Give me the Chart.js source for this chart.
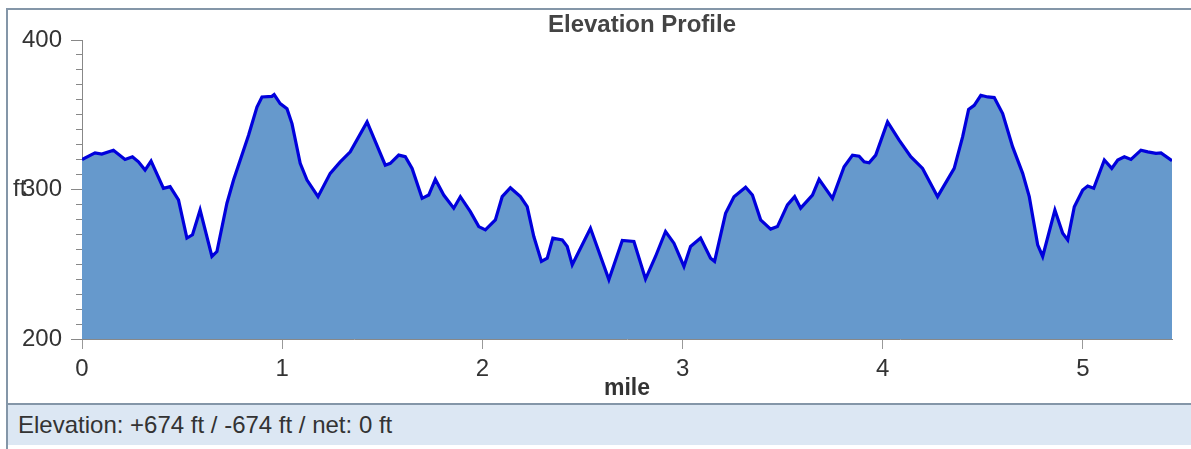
<!DOCTYPE html>
<html><head><meta charset="utf-8">
<script src="https://cdn.jsdelivr.net/npm/chart.js@4.4.0/dist/chart.umd.min.js"></script>
<style>
html,body{margin:0;padding:0;background:#fff;width:1191px;height:449px;overflow:hidden;font-family:'Liberation Sans',Arial,sans-serif;}
#frame{position:absolute;left:6px;top:8px;width:1200px;height:460px;border-left:2px solid #8496a8;border-top:2px solid #8496a8;}
#c{position:absolute;left:0;top:0;z-index:2;}
#footer{position:absolute;left:8px;top:403px;width:1190px;height:42px;background:#dce7f3;border-top:2px solid #8496a8;z-index:1;font-size:24px;color:#333;line-height:40px;padding-left:10px;box-sizing:border-box;}
</style></head>
<body>
<div id="frame"></div>
<div id="footer">Elevation: +674 ft / -674 ft / net: 0 ft</div>
<canvas id="c" width="1191" height="400"></canvas>
<script>
const chartTitle = 'Elevation Profile';
const xAxisTitle = 'mile';
const yAxisUnit = 'ft';
const yMin = 200, yMax = 400, yMajorStep = 100, yMinorStep = 10, xStep = 1;

const miles = [0.000,0.065,0.099,0.157,0.215,0.252,0.282,0.315,0.345,0.407,
0.440,0.482,0.524,0.552,0.590,0.649,0.674,0.724,0.757,0.832,
0.874,0.899,0.949,0.960,0.990,1.024,1.049,1.090,1.124,1.179,
1.240,1.290,1.340,1.424,1.515,1.540,1.582,1.615,1.649,1.699,
1.732,1.765,1.807,1.857,1.890,1.940,1.982,2.015,2.065,2.099,
2.140,2.190,2.224,2.257,2.295,2.324,2.352,2.399,2.424,2.449,
2.540,2.632,2.699,2.757,2.815,2.865,2.915,2.957,3.007,3.040,
3.090,3.140,3.160,3.215,3.257,3.315,3.349,3.390,3.440,3.474,
3.524,3.560,3.590,3.649,3.682,3.749,3.807,3.849,3.882,3.907,
3.932,3.965,4.024,4.082,4.140,4.199,4.274,4.357,4.399,4.429,
4.457,4.490,4.524,4.557,4.599,4.649,4.699,4.732,4.774,4.799,
4.860,4.899,4.924,4.957,4.999,5.024,5.054,5.107,5.144,5.174,
5.207,5.240,5.290,5.324,5.365,5.390,5.445];

const elevationFt = [320,324.5,323.7,326.3,320.1,321.9,318.5,313,319,300.8,
301.9,293,267.5,269.7,286.3,255.2,258.5,290.8,306.3,336.3,
355.2,361.9,362.3,363.5,357.5,354.1,344.1,317.5,306.3,295.2,
310.8,318.5,325.2,345.2,316.3,317.5,323,321.9,314.1,294.1,
296.3,306.8,296.3,287.5,295.2,285.2,275.2,273,279.7,295.2,
301.2,295.2,288.5,268.5,251.9,254.1,267.5,266.3,261.9,249.7,
274.1,239.7,265.9,265.2,240.1,255.2,271.9,264.1,248.5,261.9,
267.5,254.1,251.9,284.1,295.2,301.5,296.3,279.7,273.5,275.2,
289.7,295.2,287.5,296.3,306.8,294.1,315.2,323,322.3,318.5,
317.9,323,345.2,333,321.9,314.1,295.2,314.1,335.2,353.5,
356.3,363,361.9,361.5,350.8,328.5,310.8,295.2,263,255.2,
286.3,270.8,266.3,288.5,299.7,302.3,300.8,319.7,314.1,319.7,
321.9,320.1,326.3,325.2,324.2,324.5,319.2];

const FONT = "'Liberation Sans', Arial, Helvetica, sans-serif";
Chart.defaults.font.family = FONT;
Chart.defaults.color = '#333';

const extraText = {
  id: 'extraText',
  beforeDraw(chart) {
    const y = chart.scales.y;
    const ctx = chart.ctx;
    ctx.save();
    ctx.font = '24px ' + FONT;
    ctx.fillStyle = '#333';
    ctx.textAlign = 'left';
    ctx.textBaseline = 'middle';
    ctx.fillText(yAxisUnit, 13, y.getPixelForValue(300));
    ctx.font = 'bold 24px ' + FONT;
    ctx.fillStyle = '#444';
    ctx.textAlign = 'center';
    ctx.fillText(chartTitle, 642, 25.5);
    ctx.restore();
  }
};

new Chart(document.getElementById('c'), {
  type: 'line',
  data: {
    datasets: [{
      data: miles.map((m, i) => ({x: m, y: elevationFt[i]})),
      borderColor: '#0000dc',
      borderWidth: 3.2,
      backgroundColor: '#6699cc',
      fill: 'start',
      tension: 0,
      pointRadius: 0
    }]
  },
  options: {
    responsive: false,
    animation: false,
    devicePixelRatio: 1,
    layout: {padding: {left: 0, right: 19, top: 40, bottom: 0}},
    plugins: {
      legend: {display: false},
      tooltip: {enabled: false},
      title: {display: false}
    },
    scales: {
      x: {
        type: 'linear', min: 0, max: miles[miles.length - 1],
        ticks: {stepSize: xStep, includeBounds: false, color: '#333', font: {size: 24, lineHeight: 1}, padding: 8, maxRotation: 0},
        grid: {drawOnChartArea: false, drawTicks: true, tickLength: 10, color: '#999'},
        border: {display: true, color: '#888', width: 1},
        title: {display: true, text: xAxisTitle, color: '#333', font: {size: 23, weight: 'bold', lineHeight: 1}, padding: {top: 0, bottom: 0}},
        afterFit: s => { s.height = 61; }
      },
      y: {
        min: yMin, max: yMax, weight: 1, position: 'left',
        ticks: {stepSize: yMajorStep, includeBounds: false, color: '#333', font: {size: 24, lineHeight: 1.2}, padding: 9},
        grid: {drawOnChartArea: false, drawTicks: true, tickLength: 11, color: '#888'},
        border: {display: true, color: '#888', width: 1},
        afterFit: s => { s.width = 82; }
      },
      y2: {
        min: yMin, max: yMax, weight: 0, position: 'left',
        ticks: {stepSize: yMinorStep, display: false},
        grid: {drawOnChartArea: false, drawTicks: true, tickLength: 6, color: '#888'},
        border: {display: false},
        afterFit: s => { s.width = 0; }
      }
    }
  },
  plugins: [extraText]
});
</script>
</body></html>
